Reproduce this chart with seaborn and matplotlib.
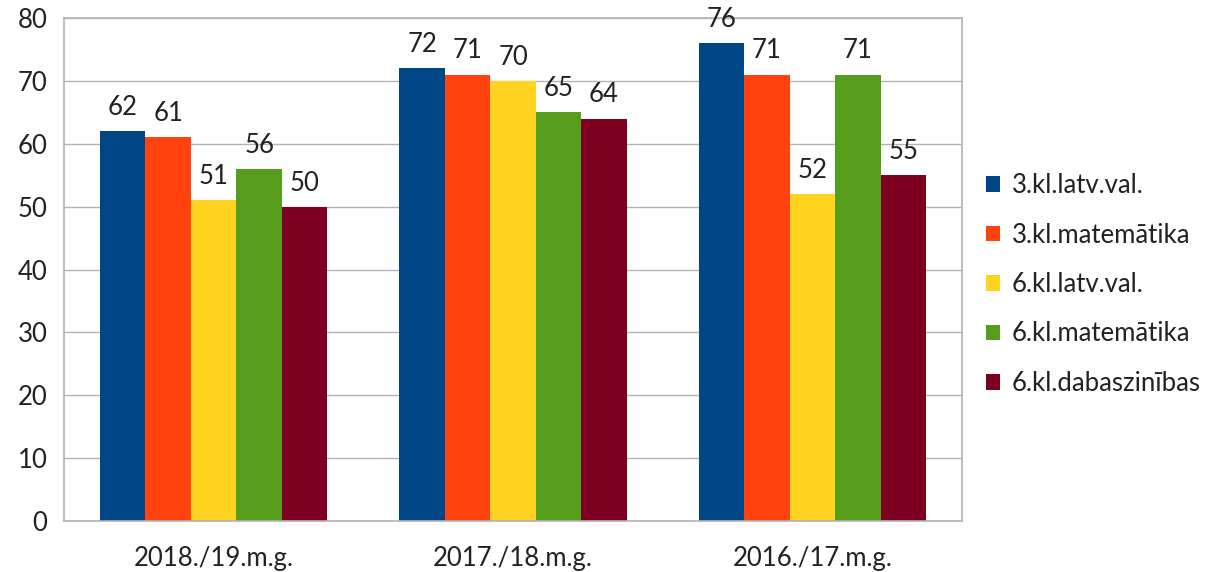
import matplotlib

matplotlib.use("Agg")

import matplotlib.pyplot as plt
import pandas as pd
import seaborn as sns

years = ["2018./19.m.g.", "2017./18.m.g.", "2016./17.m.g."]
subjects = ["3.kl.latv.val.", "3.kl.matemātika", "6.kl.latv.val.", "6.kl.matemātika", "6.kl.dabaszinības"]
latv3 = [62, 72, 76]
mat3 = [61, 71, 71]
latv6 = [51, 70, 52]
mat6 = [56, 65, 71]
dab6 = [50, 64, 55]
colors = ["#004586", "#ff420e", "#ffd320", "#579d1c", "#7e0021"]

rows = []
for subject, values in zip(subjects, [latv3, mat3, latv6, mat6, dab6]):
    for year, v in zip(years, values):
        rows.append({"year": year, "subject": subject, "value": v})
df = pd.DataFrame(rows)

sns.set_theme(style="white")
plt.rcParams["font.family"] = ["Lato", "DejaVu Sans"]

fs = 18.5
fig = plt.figure(figsize=(12.08, 5.72), dpi=100)
ax = fig.add_axes([64 / 1208, 1 - 521 / 572, 898 / 1208, 503 / 572])
sns.barplot(data=df, x="year", y="value", hue="subject", hue_order=subjects,
            order=years, palette=colors, width=0.76, saturation=1,
            linewidth=0, edgecolor="none", ax=ax, zorder=2)

for container in ax.containers:
    ax.bar_label(container, padding=8, fontsize=fs, color="#222222")

ax.set_ylim(0, 80)
ax.set_xlim(-0.5, 2.5)
ax.set_yticks(range(0, 81, 10))
ax.yaxis.grid(True, color="#b3b3b3", linewidth=1, zorder=0)
ax.set_axisbelow(True)
for s in ax.spines.values():
    s.set_color("#b3b3b3")
    s.set_linewidth(1.2)
ax.tick_params(axis="both", length=0, labelsize=fs, colors="#222222")
ax.tick_params(axis="x", pad=18)
ax.tick_params(axis="y", pad=12)
ax.set_xlabel("")
ax.set_ylabel("")

ax.legend(loc="center left", bbox_to_anchor=(1.015, 0.47), frameon=False,
          fontsize=fs, handlelength=0.55, handleheight=0.55, handletextpad=0.45,
          labelspacing=0.95, labelcolor="#222222", borderaxespad=0)

fig.savefig("out.png", dpi=100)
